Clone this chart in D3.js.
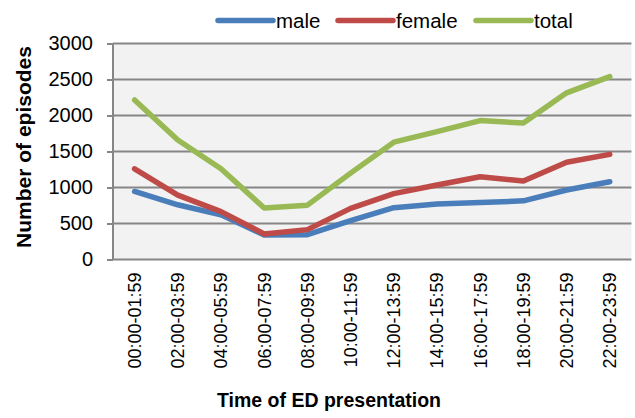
<!DOCTYPE html>
<html>
<head>
<meta charset="utf-8">
<script src="https://cdn.jsdelivr.net/npm/d3@7"></script>
<style>
  html, body { margin: 0; padding: 0; background: #fff; }
  svg { display: block; font-family: "Liberation Sans", Arial, sans-serif; }
</style>
</head>
<body>
<svg id="chart" width="635" height="418"></svg>
<script>
// Episodes by two-hour block of ED presentation
const timeSlots = ["00:00-01:59", "02:00-03:59", "04:00-05:59", "06:00-07:59",
  "08:00-09:59", "10:00-11:59", "12:00-13:59", "14:00-15:59",
  "16:00-17:59", "18:00-19:59", "20:00-21:59", "22:00-23:59"];
const male   = [945, 760, 620, 340, 345, 540, 720, 770, 790, 815, 965, 1080];
const female = [1260, 895, 665, 355, 415, 710, 915, 1035, 1150, 1090, 1350, 1460];
const total  = [2215, 1660, 1260, 715, 755, 1200, 1630, 1775, 1930, 1895, 2315, 2540];
const yTicks = [0, 500, 1000, 1500, 2000, 2500, 3000];

const seriesNames = ["male", "female", "total"];
const seriesColors = ["#4a7ebb", "#be4b48", "#98b954"];
const seriesValues = [male, female, total];

const svg = d3.select("#chart");
const plot = { left: 113, right: 631.4, top: 43.5, bottom: 259.5 };

const x = d3.scaleBand().domain(timeSlots).range([plot.left, plot.right]);
const y = d3.scaleLinear().domain([0, 3000]).range([plot.bottom, plot.top]);

// plot area background
svg.append("rect")
  .attr("x", plot.left).attr("y", plot.top)
  .attr("width", plot.right - plot.left).attr("height", plot.bottom - plot.top)
  .attr("fill", "#f2f2f2");

// y axis with outward ticks
const yAxis = svg.append("g")
  .attr("transform", `translate(${plot.left},0)`)
  .call(d3.axisLeft(y).tickValues(yTicks).tickSize(6).tickPadding(14).tickFormat(d3.format("d")));
yAxis.attr("font-size", null).attr("font-family", null);
yAxis.select(".domain").attr("stroke", "#868686").attr("stroke-width", 2).attr("d", `M0,${plot.top}V${plot.bottom}`);
yAxis.selectAll(".tick line").attr("stroke", "#868686").attr("stroke-width", 2);
yAxis.selectAll(".tick text").style("font-size", "20px").attr("fill", "#000");

// horizontal gridlines
svg.append("g").selectAll("line").data(yTicks).join("line")
  .attr("x1", plot.left).attr("x2", plot.right)
  .attr("y1", d => y(d)).attr("y2", d => y(d))
  .attr("stroke", "#868686").attr("stroke-width", 2);

// x axis labels, rotated
const xAxis = svg.append("g")
  .attr("transform", `translate(0,${plot.bottom})`)
  .call(d3.axisBottom(x).tickSize(0).tickPadding(0));
xAxis.attr("font-size", null).attr("font-family", null);
xAxis.select(".domain").remove();
xAxis.selectAll(".tick text")
  .style("font-size", "18px").attr("fill", "#000")
  .attr("transform", "rotate(-90)")
  .attr("text-anchor", "end")
  .attr("x", -13).attr("y", 0).attr("dy", "0.35em");

// series lines
const line = d3.line()
  .x((d, i) => x(timeSlots[i]) + x.bandwidth() / 2)
  .y(d => y(d));

seriesValues.forEach((vals, k) => {
  svg.append("path")
    .datum(vals)
    .attr("d", line)
    .attr("fill", "none")
    .attr("stroke", seriesColors[k])
    .attr("stroke-width", 5.5)
    .attr("stroke-linejoin", "round")
    .attr("stroke-linecap", "round");
});

// legend
const legendX = [218, 338, 476];
const legend = svg.append("g");
seriesNames.forEach((name, k) => {
  legend.append("line")
    .attr("x1", legendX[k]).attr("x2", legendX[k] + 55)
    .attr("y1", 20.5).attr("y2", 20.5)
    .attr("stroke", seriesColors[k]).attr("stroke-width", 5.5)
    .attr("stroke-linecap", "round");
  legend.append("text")
    .attr("x", legendX[k] + 58).attr("y", 27.5)
    .attr("font-size", 20.5).attr("fill", "#000")
    .text(name);
});

// axis titles
svg.append("text")
  .attr("transform", "translate(31,147) rotate(-90)")
  .attr("text-anchor", "middle")
  .attr("font-size", 21).attr("font-weight", "bold")
  .text("Number of episodes");

svg.append("text")
  .attr("x", 329).attr("y", 407)
  .attr("text-anchor", "middle")
  .attr("font-size", 19.5).attr("font-weight", "bold")
  .text("Time of ED presentation");
</script>
</body>
</html>
